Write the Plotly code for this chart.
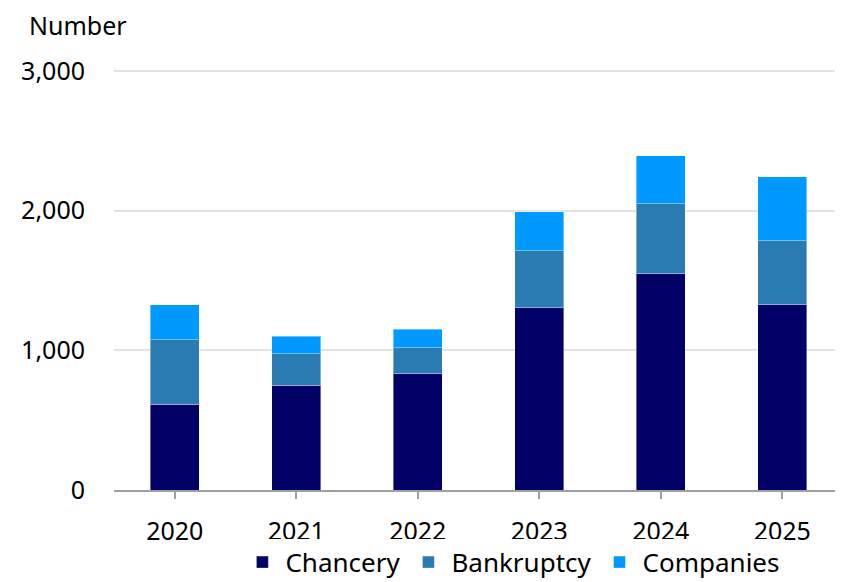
import plotly.graph_objects as go

years = ["2020", "2021", "2022", "2023", "2024", "2025"]
chancery = [614, 752, 831, 1307, 1548, 1326]
bankruptcy = [462, 224, 188, 407, 502, 460]
companies = [250, 126, 131, 279, 343, 457]

series = [
    ("Chancery", chancery, "#000066"),
    ("Bankruptcy", bankruptcy, "#2b7bb3"),
    ("Companies", companies, "#0099ff"),
]

FONT = "Noto Sans"

fig = go.Figure()
for name, vals, color in series:
    fig.add_trace(go.Bar(
        x=years, y=vals, name=name,
        marker=dict(color=color, line=dict(color="rgba(255,255,255,0.4)", width=1)),
    ))

# the page body has an 8px margin, so the figure is sized 8px smaller
fig.update_layout(
    barmode="stack",
    bargap=0.6,
    width=835, height=574,
    margin=dict(l=106, r=0, t=62, b=92, autoexpand=False),
    plot_bgcolor="white",
    paper_bgcolor="white",
    font=dict(family=FONT, size=25, color="#000000"),
    showlegend=True,
    legend=dict(
        orientation="h", x=0.172, xanchor="left", y=-0.116, yanchor="top",
        font=dict(size=26), itemwidth=36, traceorder="normal",
        tracegroupgap=0,
    ),
    annotations=[dict(
        text="Number", xref="paper", yref="paper", x=-0.12, y=1.106,
        xanchor="left", yanchor="middle", showarrow=False,
        font=dict(size=25, family=FONT),
    )],
)

fig.update_xaxes(
    automargin=False,
    showline=True, linecolor="#a0a0a0", linewidth=2,
    ticks="outside", tickcolor="#a0a0a0", ticklen=7, tickwidth=2,
    ticklabelstandoff=11,
    range=[-0.5, 5.5],
)
fig.update_yaxes(
    automargin=False,
    range=[0, 3008], tickvals=[0, 1000, 2000, 3000], tickformat=",",
    showgrid=True, gridcolor="#e3e3e3", gridwidth=2,
    zeroline=False, ticklabelstandoff=28,
)

fig.write_html("out.html")
